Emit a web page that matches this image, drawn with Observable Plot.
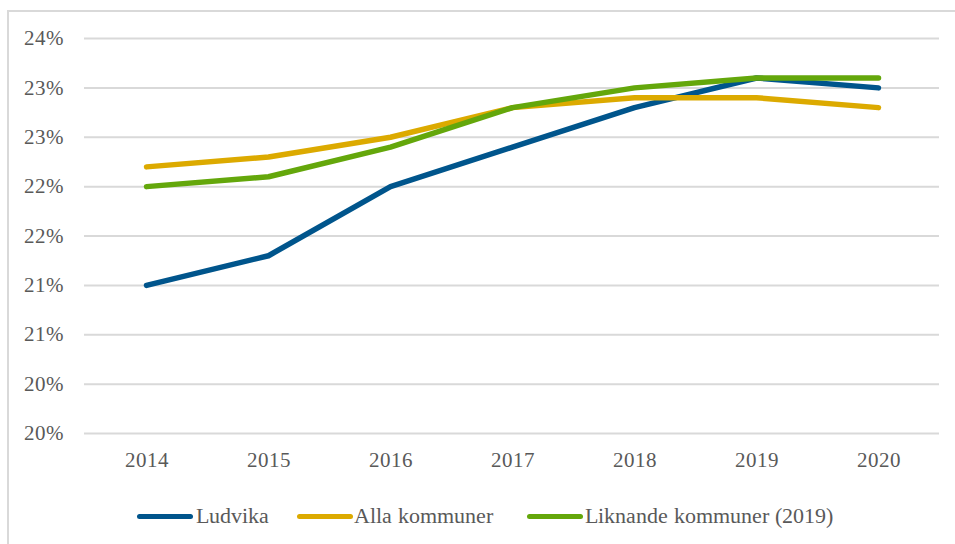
<!DOCTYPE html>
<html><head><meta charset="utf-8">
<script src="https://cdn.jsdelivr.net/npm/d3@7"></script>
<script src="https://cdn.jsdelivr.net/npm/@observablehq/plot@0.6"></script>
<style>
@font-face{font-family:"ChartSerif";src:local("Liberation Serif"),local("LiberationSerif"),local("LiberationSerif-Regular"),local("Times New Roman");}
body{margin:0;background:#fff;font-family:ChartSerif,'Liberation Serif',serif;}
#wrap{position:relative;width:955px;height:544px;overflow:hidden;}
#frame{position:absolute;left:7px;top:10px;width:1000px;height:600px;border:2px solid #d9d9d9;box-sizing:border-box;}
#chart{position:absolute;left:0;top:0;}
#legend{position:absolute;left:0;top:502px;width:955px;height:28px;font-size:22px;color:#595959;}
.sw{position:absolute;top:12px;height:5px;border-radius:3px;}
.tx{position:absolute;top:1px;white-space:nowrap;line-height:26px;}
</style></head>
<body><div id="wrap"><div id="frame"></div><div id="chart"></div><div id="legend"></div></div>
<script>
const years = ["2014","2015","2016","2017","2018","2019","2020"];
const seriesNames = ["Ludvika","Alla kommuner","Liknande kommuner (2019)"];
const seriesColors = ["#00558c","#dcaa00","#64a70b"];
const ludvika = [0.2150,0.2180,0.2250,0.2290,0.2330,0.2360,0.2350];
const alla = [0.2270,0.2280,0.2300,0.2330,0.2340,0.2340,0.2330];
const liknande = [0.2250,0.2260,0.2290,0.2330,0.2350,0.2360,0.2360];
const yTicks = [0.200,0.205,0.210,0.215,0.220,0.225,0.230,0.235,0.240];
const yTickLabels = ["20%","20%","21%","21%","22%","22%","23%","23%","24%"];

const values = [ludvika, alla, liknande];
const data = [];
seriesNames.forEach((s,i)=>years.forEach((y,j)=>data.push({series:s, year:y, value:values[i][j]})));

const fontStack = "ChartSerif,'Liberation Serif',serif";
const chart = Plot.plot({
  width:955, height:490,
  marginLeft:84, marginRight:16, marginTop:38, marginBottom:57,
  style:{fontFamily:fontStack, fontSize:"21px", color:"#595959", background:"transparent", overflow:"visible"},
  x:{type:"point", domain:years, padding:0.5, label:null},
  y:{domain:[0.20,0.24], label:null},
  color:{domain:seriesNames, range:seriesColors},
  marks:[
    Plot.gridY(yTicks,{stroke:"#d9d9d9", strokeOpacity:1, strokeWidth:2}),
    Plot.axisY(yTicks,{tickSize:0, tickPadding:21, tickFormat:(d,i)=>yTickLabels[i], label:null, fill:"#595959"}),
    Plot.axisX({tickSize:0, tickPadding:19, label:null, fill:"#595959"}),
    Plot.line(data,{x:"year", y:"value", z:"series", stroke:"series", strokeWidth:5.5, strokeLinecap:"round", strokeLinejoin:"round"})
  ]
});
document.getElementById("chart").appendChild(chart);

const lg = document.getElementById("legend");
const swLeft = [137,297,527];
const txLeft = [196,354,585];
seriesNames.forEach((s,i)=>{
  const sw=document.createElement("div");sw.className="sw";
  sw.style.left=swLeft[i]+"px";sw.style.width="56px";sw.style.background=seriesColors[i];
  lg.appendChild(sw);
  const t=document.createElement("div");t.className="tx";t.style.left=txLeft[i]+"px";t.textContent=s;
  lg.appendChild(t);
});
</script></body></html>
